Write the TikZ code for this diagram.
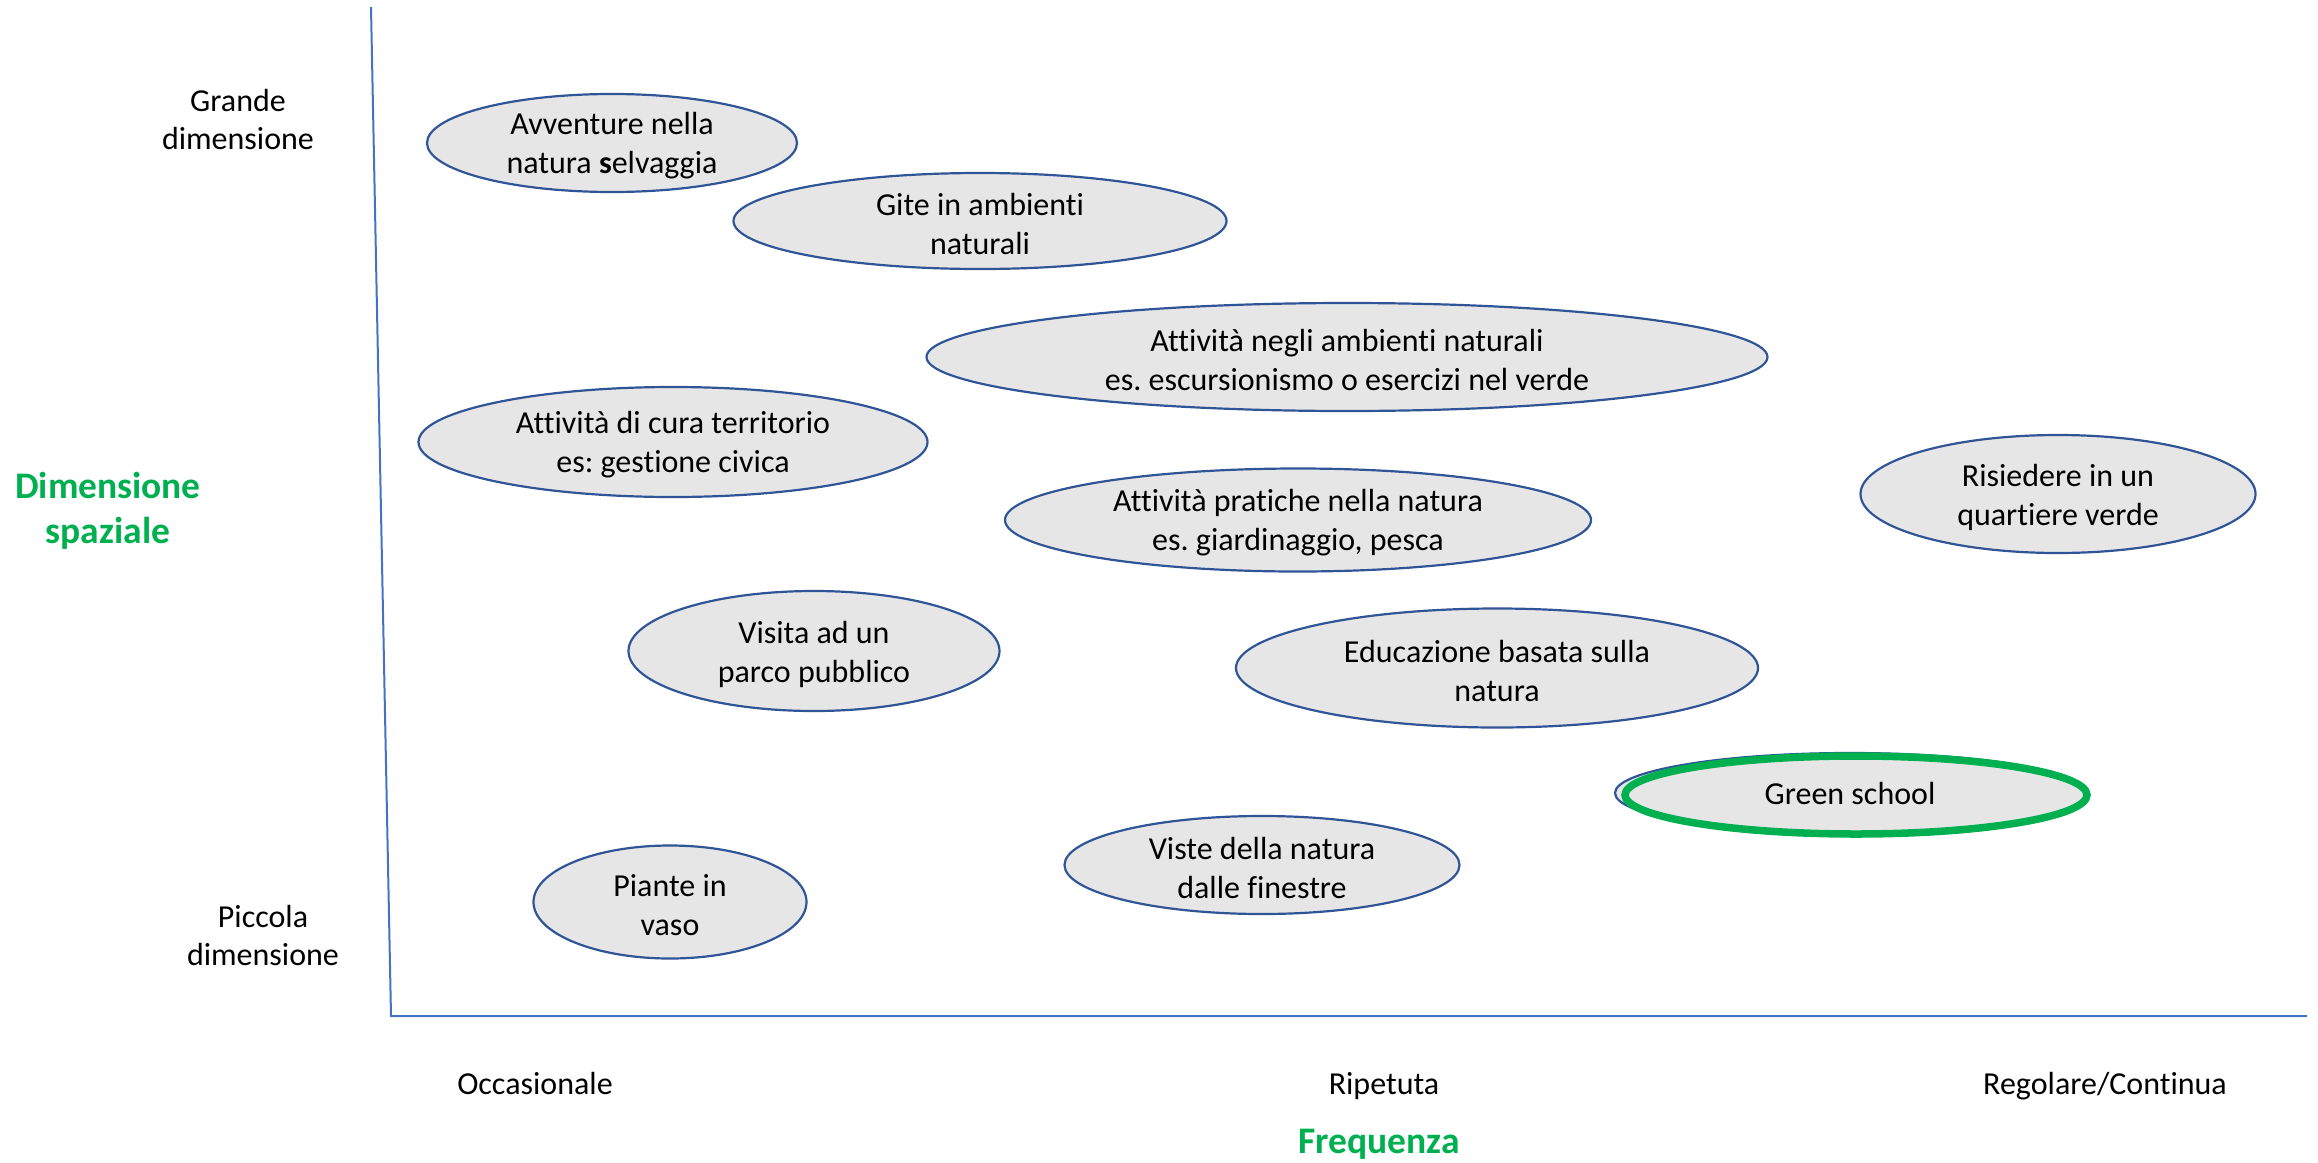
\documentclass[tikz,border=0pt]{standalone}
\usepackage{fontspec}
\setmainfont{Carlito}[Ligatures={NoCommon}]
\usetikzlibrary{shapes.geometric}
\definecolor{ogreen}{RGB}{0,176,80}
\definecolor{oblue}{RGB}{47,85,151}
\definecolor{axblue}{RGB}{68,114,196}
\definecolor{ogray}{RGB}{231,230,230}
\frenchspacing
\tikzset{
  oval/.style={ellipse, draw=oblue, line width=2.2pt, fill=ogray, inner sep=0pt},
  txt/.style={align=center, font=\fontsize{32}{39}\selectfont, inner sep=0pt, yshift=-3pt},
  axlab/.style={align=center, font=\fontsize{32}{38}\selectfont, inner sep=0pt},
  onelab/.style={font=\fontsize{32}{38}\selectfont, inner sep=0pt, text height=22pt, text depth=7pt, yshift=-4.5pt},
  gtitle/.style={align=center, text=ogreen, font=\fontsize{37.5}{45}\selectfont\bfseries, inner sep=0pt},
  axis/.style={draw=axblue, line width=2pt}
}
\begin{document}
\begin{tikzpicture}[x=1pt,y=-1pt]
\useasboundingbox (0,0) rectangle (2318,1162);
% axes
\coordinate (top) at (371,7);
\coordinate (origin) at (391,1016);
\coordinate (right) at (2307,1016);
\draw[axis] (top) -- (origin) -- (right);
% ovals
\node[oval, minimum width=370, minimum height=98] (e1) at (612,143) {};
\node[txt] (t1) at (e1.center) {Avventure nella\\natura \textbf{s}elvaggia};
\node[oval, minimum width=493, minimum height=96] (e2) at (980,221) {};
\node[txt] (t2) at (e2.center) {Gite in ambienti\\naturali};
\node[oval, minimum width=841, minimum height=108] (e3) at (1347,357) {};
\node[txt] (t3) at (e3.center) {Attività negli ambienti naturali\\es. escursionismo o esercizi nel verde};
\node[oval, minimum width=509, minimum height=110] (e4) at (673,442) {};
\node[txt] (t4) at (e4.center) {Attività di cura territorio\\es: gestione civica};
\node[oval, minimum width=586, minimum height=103] (e5) at (1298,520) {};
\node[txt] (t5) at (e5.center) {Attività pratiche nella natura\\es. giardinaggio, pesca};
\node[oval, minimum width=395, minimum height=118] (e6) at (2058,494) {};
\node[txt] (t6) at (e6.center) {Risiedere in un\\quartiere verde};
\node[oval, minimum width=371, minimum height=120] (e7) at (814,651) {};
\node[txt] (t7) at (e7.center) {Visita ad un\\parco pubblico};
\node[oval, minimum width=522, minimum height=119] (e8) at (1497,668) {};
\node[txt] (t8) at (e8.center) {Educazione basata sulla\\natura};
\node[oval, minimum width=470, minimum height=80] (e9b) at (1850,793) {};
\node[oval, draw=ogreen, line width=7.5pt, minimum width=462, minimum height=78] (e9) at (1856,795) {};
\node[onelab] (t9) at (1850,792) {Green school};
\node[oval, minimum width=395, minimum height=98] (e10) at (1262,865) {};
\node[txt] (t10) at (e10.center) {Viste della natura\\dalle finestre};
\node[oval, minimum width=273, minimum height=113] (e11) at (670,902) {};
\node[txt] (t11) at (e11.center) {Piante in\\vaso};
% axis labels
\node[axlab] (grande) at (238,120) {Grande\\dimensione};
\node[axlab] (piccola) at (263,935) {Piccola\\dimensione};
\node[gtitle] (dim) at (108,511) {Dimensione\\spaziale};
\node[onelab] (occ) at (535,1082) {Occasionale};
\node[onelab] (rip) at (1384,1082) {Ripetuta};
\node[onelab] (reg) at (2105,1082) {Regolare/Continua};
\node[gtitle] (freq) at (1379,1144) {Frequenza};
\end{tikzpicture}
\end{document}
